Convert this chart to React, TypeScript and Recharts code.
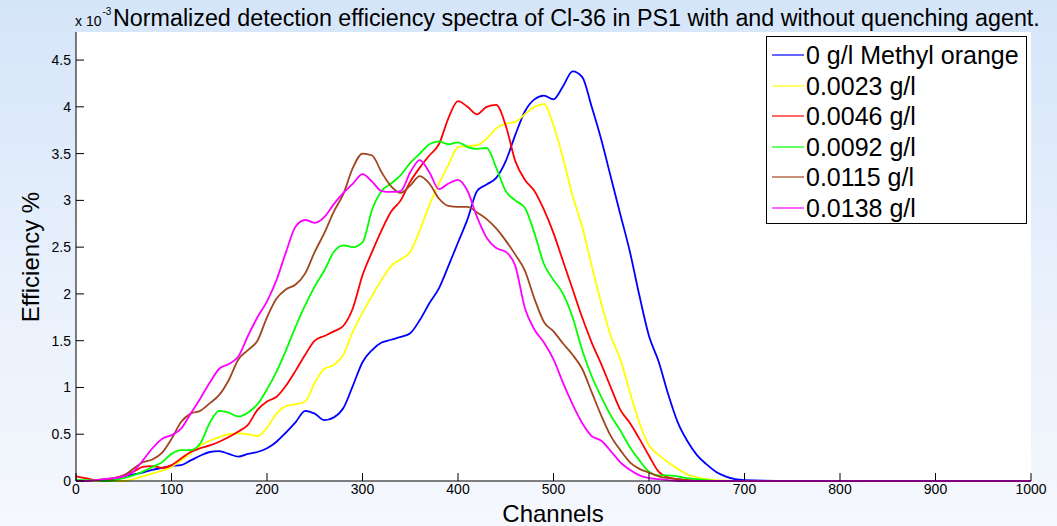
import React from "react";
import { LineChart, Line, XAxis, YAxis, CartesianGrid, Legend } from "recharts";

// channel grid, read every 10 channels up to 700, then the flat tail
const channels = [
  0, 10, 20, 30, 40, 50, 60, 70, 80, 90,
  100, 110, 120, 130, 140, 150, 160, 170, 180, 190,
  200, 210, 220, 230, 240, 250, 260, 270, 280, 290,
  300, 310, 320, 330, 340, 350, 360, 370, 380, 390,
  400, 410, 420, 430, 440, 450, 460, 470, 480, 490,
  500, 510, 520, 530, 540, 550, 560, 570, 580, 590,
  600, 610, 620, 630, 640, 650, 660, 670, 680, 690,
  700, 750, 800, 850, 900, 950, 1000,
];

// efficiency in units of 1e-3
const mo0 = [
  0.01, 0.0, 0.0, 0.01, 0.02, 0.05, 0.07, 0.09, 0.12, 0.14,
  0.16, 0.17, 0.22, 0.27, 0.31, 0.32, 0.29, 0.26, 0.29, 0.31,
  0.35, 0.42, 0.52, 0.63, 0.75, 0.72, 0.65, 0.68, 0.78, 1.02,
  1.27, 1.4, 1.48, 1.51, 1.54, 1.58, 1.72, 1.9, 2.06, 2.3,
  2.55, 2.8, 3.1, 3.17, 3.24, 3.42, 3.7, 3.95, 4.08, 4.12,
  4.08, 4.22, 4.38, 4.32, 4.0, 3.65, 3.25, 2.85, 2.45, 1.98,
  1.55, 1.28, 0.93, 0.63, 0.43, 0.28, 0.18, 0.1, 0.05, 0.02,
  0.01, 0, 0, 0, 0, 0, 0,
];
const mo0023 = [
  0.0, 0.0, 0.0, 0.0, 0.0, 0.0, 0.02, 0.05, 0.08, 0.11,
  0.15, 0.22, 0.3, 0.38, 0.43, 0.47, 0.5, 0.51, 0.5, 0.48,
  0.57, 0.72, 0.8, 0.82, 0.85, 1.05, 1.2, 1.24, 1.35, 1.6,
  1.8, 1.98, 2.15, 2.3, 2.37, 2.45, 2.68, 2.95, 3.18, 3.38,
  3.57, 3.58, 3.59, 3.66, 3.77, 3.82, 3.84, 3.92, 4.0, 4.03,
  3.8, 3.45, 3.05, 2.72, 2.3, 1.9, 1.55, 1.3, 0.95, 0.62,
  0.38, 0.28, 0.2, 0.13, 0.07, 0.04, 0.02, 0.01, 0.005, 0,
  0, 0, 0, 0, 0, 0, 0,
];
const mo0046 = [
  0.05, 0.03, 0.01, 0.01, 0.03, 0.06, 0.1, 0.15, 0.16, 0.14,
  0.17, 0.24, 0.31, 0.35, 0.38, 0.42, 0.47, 0.53, 0.6, 0.76,
  0.85, 0.9, 1.02, 1.18, 1.35, 1.5, 1.55, 1.6, 1.66, 1.85,
  2.2, 2.45, 2.68, 2.88, 3.0, 3.2, 3.35, 3.48, 3.6, 3.88,
  4.06, 4.0, 3.92, 4.0, 4.02, 3.8, 3.42, 3.22, 3.1, 2.9,
  2.65, 2.35, 2.05, 1.75, 1.48, 1.25, 1.0, 0.76, 0.62, 0.45,
  0.27, 0.1, 0.04, 0.02, 0.01, 0, 0, 0, 0, 0,
  0, 0, 0, 0, 0, 0, 0,
];
const mo0092 = [
  0.01, 0.01, 0.01, 0.0, 0.01, 0.03, 0.06, 0.1, 0.15, 0.2,
  0.29, 0.33, 0.33, 0.4, 0.62, 0.75, 0.73, 0.69, 0.73, 0.82,
  0.98, 1.17, 1.4, 1.65, 1.88, 2.08, 2.25, 2.45, 2.52, 2.5,
  2.55, 2.9, 3.1, 3.18, 3.27, 3.4, 3.5, 3.6, 3.63, 3.6,
  3.62, 3.57, 3.55, 3.56, 3.35, 3.1, 3.0, 2.92, 2.65, 2.32,
  2.15, 2.0, 1.75, 1.4, 1.12, 0.9, 0.7, 0.54, 0.36, 0.22,
  0.1, 0.06, 0.06, 0.05, 0.03, 0.02, 0.01, 0, 0, 0,
  0, 0, 0, 0, 0, 0, 0,
];
const mo0115 = [
  0.0, 0.0, 0.01, 0.02, 0.03, 0.06, 0.13, 0.2, 0.23, 0.3,
  0.45, 0.63, 0.72, 0.75, 0.83, 0.92, 1.08, 1.3, 1.4, 1.5,
  1.75, 1.95, 2.05, 2.1, 2.22, 2.45, 2.65, 2.88, 3.07, 3.35,
  3.5, 3.48, 3.3, 3.15, 3.08, 3.16, 3.26, 3.18, 3.02, 2.94,
  2.93, 2.93, 2.87, 2.8, 2.7, 2.57, 2.42, 2.25, 1.95, 1.7,
  1.6, 1.47, 1.35, 1.2, 0.95, 0.7, 0.48, 0.33, 0.2, 0.13,
  0.09, 0.05, 0.03, 0.02, 0.01, 0, 0, 0, 0, 0,
  0, 0, 0, 0, 0, 0, 0,
];
const mo0138 = [
  0.0, 0.0, 0.01, 0.02, 0.03, 0.05, 0.1, 0.22, 0.35, 0.45,
  0.49, 0.56, 0.72, 0.88, 1.05, 1.2, 1.25, 1.33, 1.55, 1.75,
  1.92, 2.15, 2.45, 2.72, 2.79, 2.76, 2.82, 2.96, 3.08, 3.18,
  3.28, 3.2, 3.1, 3.09, 3.1, 3.3, 3.43, 3.3, 3.12, 3.18,
  3.22, 3.1, 2.82, 2.6, 2.49, 2.45, 2.3, 1.85, 1.62, 1.48,
  1.3, 1.05, 0.82, 0.62, 0.48, 0.43, 0.32, 0.2, 0.12, 0.06,
  0.03, 0.02, 0.01, 0, 0, 0, 0, 0, 0, 0,
  0, 0, 0, 0, 0, 0, 0,
];

const seriesNames = [
  "0 g/l Methyl orange",
  "0.0023 g/l",
  "0.0046 g/l",
  "0.0092 g/l",
  "0.0115 g/l",
  "0.0138 g/l",
];
const xTicks = [0, 100, 200, 300, 400, 500, 600, 700, 800, 900, 1000];
const yTicks = [0, 0.5, 1, 1.5, 2, 2.5, 3, 3.5, 4, 4.5];

const seriesValues = [mo0, mo0023, mo0046, mo0092, mo0115, mo0138];
const colors = ["#0000ff", "#ffff00", "#ff0000", "#00ff00", "#a0461e", "#ff00ff"];

const rows = channels.map((ch, i) => {
  const r: Record<string, number> = { ch };
  seriesValues.forEach((vals, k) => (r["s" + k] = vals[i]));
  return r;
});

const FONT = "'Liberation Sans', Arial, sans-serif";

const renderLegend = (props: any) => {
  const items = props.payload || [];
  return (
    <div
      style={{
        width: 261,
        height: 188,
        boxSizing: "border-box",
        border: "1px solid #000",
        background: "#fff",
        paddingTop: 3,
        fontFamily: FONT,
        fontSize: 25,
        color: "#000",
      }}
    >
      {items.map((it: any) => (
        <div key={it.value} style={{ height: 30.5, display: "flex", alignItems: "center" }}>
          <svg width={38} height={4} style={{ marginLeft: 5 }}>
            <line x1={0} y1={2} x2={32} y2={2} stroke={it.color} strokeWidth={1.2} />
          </svg>
          <span style={{ marginLeft: -4, lineHeight: "30px" }}>{it.value}</span>
        </div>
      ))}
    </div>
  );
};

export default function App() {
  return (
    <div
      style={{
        position: "absolute",
        left: 0,
        top: 0,
        width: 1057,
        height: 526,
        overflow: "hidden",
        background: "linear-gradient(to bottom, #d5e5f9 0%, #e9f1fc 55%, #f5f8fd 100%)",
      }}
    >
      <LineChart
        width={1057}
        height={526}
        data={rows}
        margin={{ top: 32, right: 26, bottom: 0, left: 0 }}
        style={{ fontFamily: FONT }}
      >
        <CartesianGrid fill="#ffffff" horizontal={false} vertical={false} />
        <XAxis
          dataKey="ch"
          type="number"
          domain={[0, 1000]}
          ticks={xTicks}
          interval={0}
          height={45}
          axisLine={{ stroke: "#000" }}
          tickLine={{ stroke: "#000" }}
          tickSize={-8}
          tickMargin={11}
          tick={{ fill: "#000", fontSize: 14, fontFamily: FONT }}
        />
        <YAxis
          type="number"
          domain={[0, 4.8]}
          ticks={yTicks}
          interval={0}
          width={76}
          axisLine={{ stroke: "#000" }}
          tickLine={{ stroke: "#000" }}
          tickSize={-8}
          tickMargin={13}
          tick={{ fill: "#000", fontSize: 14, fontFamily: FONT }}
        />
        {seriesNames.map((name, k) => (
          <Line
            key={name}
            name={name}
            dataKey={"s" + k}
            type="monotone"
            stroke={colors[k]}
            strokeWidth={1.8}
            dot={false}
            activeDot={false}
            isAnimationActive={false}
          />
        ))}
        <Legend
          layout="vertical"
          align="center"
          verticalAlign="middle"
          content={renderLegend}
          wrapperStyle={{ position: "absolute", left: 766, top: 36, width: 261, height: 188 }}
        />
      </LineChart>
      <svg
        width={1057}
        height={526}
        style={{ position: "absolute", left: 0, top: 0, pointerEvents: "none", fontFamily: FONT }}
      >
        <text x={75} y={26} fontSize={14} fill="#000">x 10</text>
        <text x={102.5} y={15} fontSize={10} fill="#000">-3</text>
        <text x={113} y={26} fontSize={23.3} fill="#000">
          Normalized detection efficiency spectra of Cl-36 in PS1 with and without quenching agent.
        </text>
        <text transform="translate(39,257) rotate(-90)" textAnchor="middle" fontSize={24} fill="#000">
          Efficiency %
        </text>
        <text x={553} y={522} textAnchor="middle" fontSize={24} fill="#000">
          Channels
        </text>
      </svg>
    </div>
  );
}
